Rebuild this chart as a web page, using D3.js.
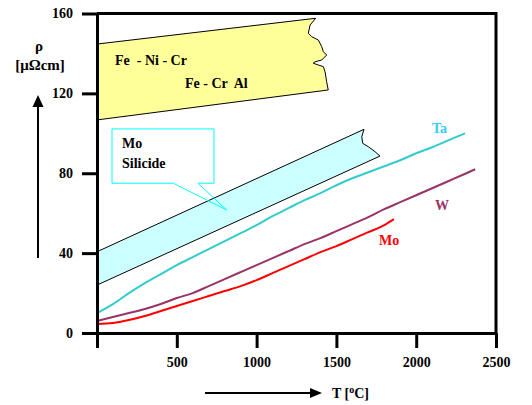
<!DOCTYPE html>
<html><head><meta charset="utf-8">
<script src="https://cdn.jsdelivr.net/npm/d3@7"></script>
<style>body{margin:0;background:#fff}svg{display:block}</style>
</head><body>
<svg id="c" width="532" height="405"></svg>
<script>
// ---- data ----
const xTicks = [0, 500, 1000, 1500, 2000, 2500];
const yTicks = [0, 40, 80, 120, 160];
const taSeries = [[0,10],[100,14.5],[200,20],[300,25],[400,29.5],[500,34],[600,38],[700,42],[800,46],[900,50],[1000,54],[1100,58.5],[1200,62.5],[1300,66.5],[1400,70],[1500,74],[1600,77.5],[1700,80.5],[1800,83.5],[1900,86.5],[2000,90],[2100,93],[2200,96.5],[2306,100]];
const wSeries = [[0,6],[100,8],[200,10],[300,12],[400,14.5],[500,17.5],[600,20],[700,23.5],[800,27],[900,30.5],[1000,34],[1100,37.5],[1200,41],[1300,44.5],[1400,47.5],[1500,51],[1600,54.5],[1700,58],[1800,62],[1900,65.5],[2000,69],[2100,72.5],[2200,76],[2300,79.5],[2370,82]];
const moSeries = [[0,4.5],[100,5],[200,6.5],[300,8.5],[400,11],[500,13.5],[600,16],[700,18.5],[800,21],[900,23.5],[1000,26.5],[1100,30],[1200,33.5],[1300,37],[1400,40.5],[1500,43.5],[1600,47],[1700,50.5],[1800,54],[1860,57]];
// Fe alloys band (outline, clockwise)
const feBand = [[0,144.7],[1370,157.6],[1335,154.2],[1324,150.1],[1345,148.4],[1387,146.7],[1408,143.4],[1418,140.9],[1439,139.2],[1408,136.7],[1366,135.8],[1355,135.1],[1387,134.2],[1418,133.4],[1429,130.8],[1439,125.8],[1449,121.7],[0,106.7]];
// Mo silicide band
const moSiBand = [[0,40.7],[1673,102],[1659,98.3],[1665,95],[1700,93.3],[1742,90.8],[1773,88.6],[0,24]];
// callout box (data units): left, right, top, bottom, pointer base, tip
const callout = {x0:94, x1:733, y0:102.2, y1:75.0, p0:478, p1:632, tip:[813,61.6]};

const FONT = 'Liberation Serif';
const svg = d3.select('#c');
const x = d3.scaleLinear().domain([0,2500]).range([97,496]);
const y = d3.scaleLinear().domain([0,160]).range([333,13.5]);

// bands
const poly = d3.line().x(d=>x(d[0])).y(d=>y(d[1]));
svg.append('path').attr('d', poly(feBand)+'Z').attr('fill','#ffff99').attr('stroke','#000').attr('stroke-width',1);
svg.append('path').attr('d', poly(moSiBand)+'Z').attr('fill','#ccffff').attr('stroke','#000').attr('stroke-width',1);

// series lines
const line = d3.line().x(d=>x(d[0])).y(d=>y(d[1])).curve(d3.curveMonotoneX);
svg.append('path').attr('d', line(taSeries)).attr('fill','none').attr('stroke','#33cccc').attr('stroke-width',2);
svg.append('path').attr('d', line(wSeries)).attr('fill','none').attr('stroke','#993366').attr('stroke-width',2);
svg.append('path').attr('d', line(moSeries)).attr('fill','none').attr('stroke','#ff0000').attr('stroke-width',2);

// callout
const c = callout;
svg.append('path')
  .attr('d', `M${x(c.p0)},${y(c.y1)}H${x(c.x0)}V${y(c.y0)}H${x(c.x1)}V${y(c.y1)}H${x(c.p1)}L${x(c.tip[0])},${y(c.tip[1])}L${x(c.p0)},${y(c.y1)}`)
  .attr('fill','none').attr('stroke','#00ffff').attr('stroke-width',1);

// axes
const xAxis = d3.axisBottom(x).tickValues(xTicks).tickSize(15).tickSizeOuter(0).tickPadding(9)
  .tickFormat(d => d===0 ? '' : d);
const yAxis = d3.axisLeft(y).tickValues(yTicks).tickSize(15).tickSizeOuter(0).tickPadding(9);
const gx = svg.append('g').attr('transform',`translate(0,${y(0)})`).call(xAxis);
const gy = svg.append('g').attr('transform',`translate(${x(0)},0)`).call(yAxis);
[gx,gy].forEach(g=>{
  g.attr('font-family',FONT).attr('font-size',14);
  g.selectAll('path,line').attr('stroke','#000').attr('stroke-width',3);
  g.selectAll('text').attr('font-family',FONT).attr('font-size',14).attr('font-weight','bold').attr('fill','#000');
});
// frame top and right
svg.append('path').attr('d',`M${x(0)},${y(160)}H${x(2500)}V${y(0)}`).attr('fill','none').attr('stroke','#000').attr('stroke-width',3);

// text labels
function txt(t, px, py, opts={}) {
  return svg.append('text').attr('x',px).attr('y',py).attr('font-family',FONT)
    .attr('font-size',opts.size||14).attr('font-weight','bold').attr('fill',opts.fill||'#000')
    .attr('text-anchor',opts.anchor||'start').attr('xml:space','preserve').text(t);
}
txt('Fe  - Ni - Cr', 115, 65);
txt('Fe - Cr  Al', 185, 88);
txt('Mo', 122, 148);
txt('Silicide', 122, 168);
txt('Ta', 432, 133, {fill:'#33ccff'});
txt('W', 435, 210, {fill:'#993366'});
txt('Mo', 379, 245, {fill:'#ff0000'});

// axis titles
txt('ρ', 39, 51, {anchor:'middle', size:15});
txt('[μΩcm]', 40, 70, {anchor:'middle', size:15});
svg.append('line').attr('x1',38).attr('x2',38).attr('y1',258).attr('y2',106).attr('stroke','#000').attr('stroke-width',2);
svg.append('path').attr('d','M32.5,107L43.5,107L38,95Z').attr('fill','#000');
svg.append('line').attr('x1',205).attr('x2',311).attr('y1',393).attr('y2',393).attr('stroke','#000').attr('stroke-width',2);
svg.append('path').attr('d','M310,388L310,398L322,393Z').attr('fill','#000');
const tt = txt('T [', 332, 398);
tt.append('tspan').attr('dy',-5).attr('font-size',10).text('o');
tt.append('tspan').attr('dy',5).text('C]');
</script>
</body></html>
